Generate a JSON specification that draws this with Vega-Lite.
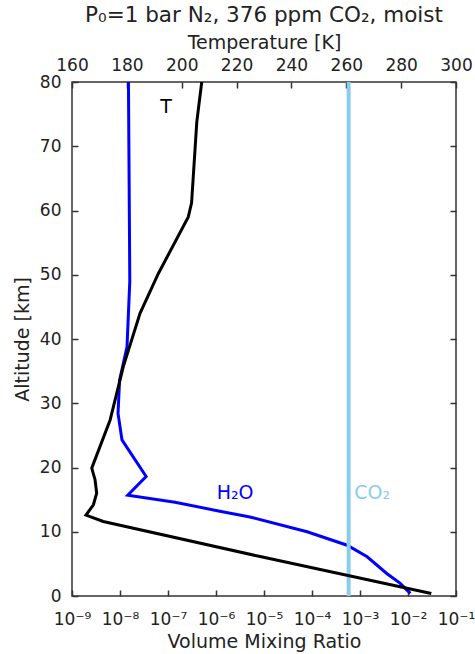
{
  "$schema": "https://vega.github.io/schema/vega-lite/v6.json",
  "width": 384,
  "height": 514,
  "autosize": {"type": "none"},
  "padding": {"left": 72, "top": 82, "right": 19, "bottom": 58},
  "background": "white",
  "config": {
    "font": "DejaVu Sans",
    "view": {"stroke": "#333", "strokeWidth": 1.5},
    "axis": {"domain": false, "grid": false, "labelFont": "DejaVu Sans", "titleFont": "DejaVu Sans", "labelFontSize": 17, "titleFontSize": 19, "labelColor": "#222", "titleColor": "#222", "titleFontWeight": "normal", "labelFlush": false}
  },
  "title": {"text": "P₀=1 bar N₂, 376 ppm CO₂, moist", "fontSize": 21.5, "fontWeight": "normal", "font": "DejaVu Sans", "color": "#222", "anchor": "middle", "offset": 7},
  "datasets": {
    "h2o": [
      {"alt": 0.4, "vmr": 1.12e-2},
      {"alt": 2.0, "vmr": 6.8e-3},
      {"alt": 3.5, "vmr": 3.6e-3},
      {"alt": 6.1, "vmr": 1.41e-3},
      {"alt": 7.9, "vmr": 5.4e-4},
      {"alt": 10.0, "vmr": 7.9e-5},
      {"alt": 12.3, "vmr": 5.1e-6},
      {"alt": 13.2, "vmr": 1.2e-6},
      {"alt": 14.6, "vmr": 1.4e-7},
      {"alt": 15.7, "vmr": 1.45e-8},
      {"alt": 18.6, "vmr": 3.5e-8},
      {"alt": 24.3, "vmr": 1.1e-8},
      {"alt": 28.4, "vmr": 9.1e-9},
      {"alt": 33.6, "vmr": 9.8e-9},
      {"alt": 38.8, "vmr": 1.4e-8},
      {"alt": 49.0, "vmr": 1.6e-8},
      {"alt": 80.0, "vmr": 1.5e-8}
    ],
    "co2": [
      {"alt": 0, "vmr": 5.8e-4},
      {"alt": 80, "vmr": 5.8e-4}
    ],
    "temp": [
      {"alt": 0.4, "T": 291.0},
      {"alt": 6.1, "T": 229.0},
      {"alt": 11.6, "T": 171.4},
      {"alt": 12.6, "T": 165.1},
      {"alt": 14.2, "T": 167.8},
      {"alt": 16.0, "T": 169.0},
      {"alt": 18.1, "T": 168.4},
      {"alt": 19.9, "T": 167.2},
      {"alt": 27.4, "T": 173.9},
      {"alt": 33.6, "T": 177.5},
      {"alt": 35.7, "T": 178.7},
      {"alt": 44.0, "T": 184.8},
      {"alt": 50.2, "T": 191.5},
      {"alt": 59.0, "T": 202.4},
      {"alt": 61.2, "T": 203.6},
      {"alt": 73.8, "T": 205.5},
      {"alt": 80.0, "T": 207.3}
    ]
  },
  "layer": [
    {
      "layer": [
        {
          "data": {"name": "h2o"},
          "mark": {"type": "line", "color": "#0000ff", "strokeWidth": 3, "clip": true},
          "encoding": {
            "x": {"field": "vmr", "type": "quantitative", "scale": {"type": "log", "domain": [1e-9, 1e-1], "nice": false},
              "axis": {"orient": "bottom", "title": "Volume Mixing Ratio", "titlePadding": 5, "offset": -6, "tickSize": 6, "tickColor": "#333", "tickWidth": 1.5,
                "labelExpr": "'10' + ['⁻⁹','⁻⁸','⁻⁷','⁻⁶','⁻⁵','⁻⁴','⁻³','⁻²','⁻¹'][round(log(datum.value)/LN10)+9]",
                "values": [1e-9,1e-8,1e-7,1e-6,1e-5,1e-4,1e-3,1e-2,1e-1],
                "labelPadding": 15}},
            "y": {"field": "alt", "type": "quantitative", "scale": {"domain": [0, 80], "nice": false},
              "axis": {"orient": "left", "title": "Altitude [km]", "titlePadding": 7, "offset": -6, "tickSize": 6, "tickColor": "#333", "tickWidth": 1.5,
                "values": [0,10,20,30,40,50,60,70,80],
                "labelPadding": 11}},
            "order": {"field": "alt", "type": "quantitative"}
          }
        },
        {
          "data": {"name": "co2"},
          "mark": {"type": "line", "color": "#87ceeb", "strokeWidth": 4},
          "encoding": {
            "x": {"field": "vmr", "type": "quantitative"},
            "y": {"field": "alt", "type": "quantitative"},
            "order": {"field": "alt", "type": "quantitative"}
          }
        },
        {
          "data": {"values": [{"label": "H₂O", "vmr": 2.5e-6, "alt": 16.0}]},
          "mark": {"type": "text", "color": "#0000ff", "fontSize": 19, "align": "center", "baseline": "middle"},
          "encoding": {
            "x": {"field": "vmr", "type": "quantitative"},
            "y": {"field": "alt", "type": "quantitative"},
            "text": {"field": "label"}
          }
        },
        {
          "data": {"values": [{"label": "CO₂", "vmr": 1.8e-3, "alt": 16.0}]},
          "mark": {"type": "text", "color": "#87ceeb", "fontSize": 19, "align": "center", "baseline": "middle"},
          "encoding": {
            "x": {"field": "vmr", "type": "quantitative"},
            "y": {"field": "alt", "type": "quantitative"},
            "text": {"field": "label"}
          }
        }
      ]
    },
    {
      "layer": [
        {
          "data": {"name": "temp"},
          "mark": {"type": "line", "color": "#000000", "strokeWidth": 3, "clip": true},
          "encoding": {
            "x": {"field": "T", "type": "quantitative", "scale": {"domain": [160, 300], "nice": false},
              "axis": {"orient": "top", "title": "Temperature [K]", "titlePadding": 4, "values": [160,180,200,220,240,260,280,300], "offset": -6, "tickSize": 6, "tickColor": "#333", "tickWidth": 1.5, "labelPadding": 8}},
            "y": {"field": "alt", "type": "quantitative",
              "axis": {"orient": "right", "title": null, "labels": false, "offset": -6, "tickSize": 6, "tickColor": "#333", "tickWidth": 1.5,
                "values": [0,10,20,30,40,50,60,70,80]}},
            "order": {"field": "alt", "type": "quantitative"}
          }
        },
        {
          "data": {"values": [{"label": "T", "T": 194.3, "alt": 76.1}]},
          "mark": {"type": "text", "color": "#000000", "fontSize": 19, "align": "center", "baseline": "middle"},
          "encoding": {
            "x": {"field": "T", "type": "quantitative"},
            "y": {"field": "alt", "type": "quantitative"},
            "text": {"field": "label"}
          }
        }
      ]
    }
  ],
  "resolve": {"scale": {"x": "independent"}, "axis": {"x": "independent", "y": "independent"}}
}
